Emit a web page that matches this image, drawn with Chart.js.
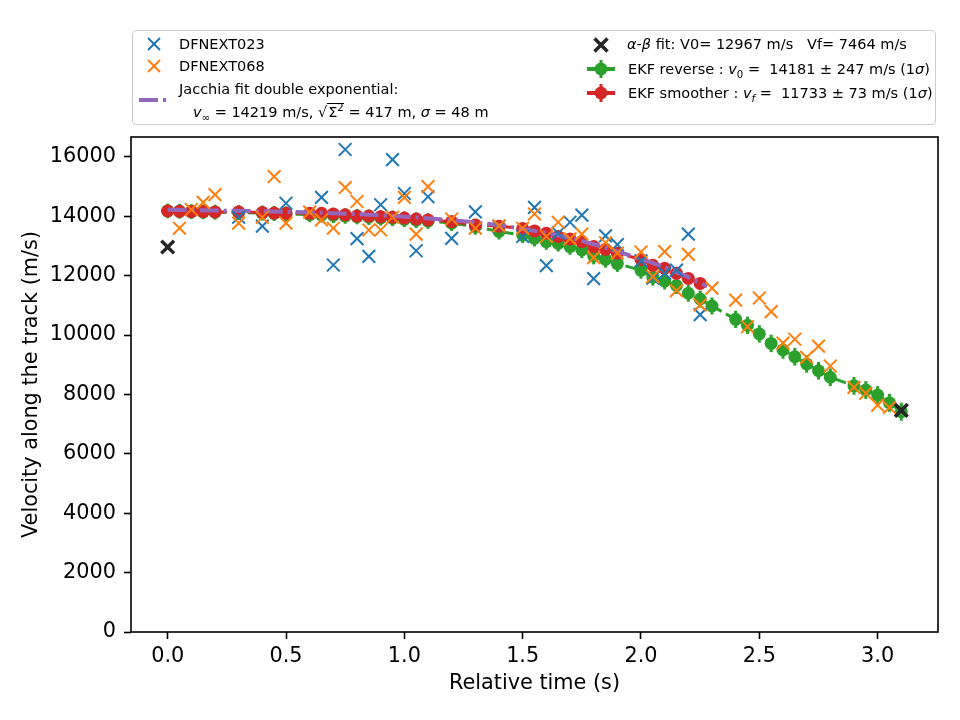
<!DOCTYPE html>
<html>
<head>
<meta charset="utf-8">
<script src="https://cdn.jsdelivr.net/npm/chart.js@4.4.1/dist/chart.umd.min.js"></script>
<style>
  html, body { margin: 0; padding: 0; background: #fff; }
  #wrap { position: relative; width: 960px; height: 720px; font-family: "DejaVu Sans", sans-serif; }
  #chart { position: absolute; left: 0; top: 0; }
  #legend { position: absolute; left: 132px; top: 30px; width: 804px; height: 95px;
            border: 1px solid #cccccc; border-radius: 4px; background: rgba(255,255,255,0.8); box-sizing: border-box; }
  #legend svg { position: absolute; left: 0; top: 0; }
  .lt { position: absolute; font-size: 14.5px; line-height: 18px; white-space: nowrap; color: #000; }
  .lt i { font-style: oblique; }
  .sb { font-size: 70%; position: relative; top: 4px; }
  .sp { font-size: 70%; position: relative; top: -6px; }
  .ov { border-top: 1px solid #000; padding-left: 1px; }
</style>
</head>
<body>
<div id="wrap">
  <canvas id="chart" width="960" height="720"></canvas>
  <div id="legend">
    <svg width="804" height="95" id="legendIcons"></svg>
    <div class="lt" style="left:46px; top:4px;">DFNEXT023</div>
    <div class="lt" style="left:46px; top:26px;">DFNEXT068</div>
    <div class="lt" style="left:46px; top:49px;">Jacchia fit double exponential:</div>
    <div class="lt" style="left:60px; top:72px;"><i>v</i><span class="sb">∞</span> = 14219 m/s, √<span class="ov">Σ<span class="sp">2</span></span> = 417 m, <i>σ</i> = 48 m</div>
    <div class="lt" style="left:494px; top:4px;"><i>α</i>-<i>β</i> fit: V0= 12967 m/s&nbsp;&nbsp; Vf= 7464 m/s</div>
    <div class="lt" style="left:495px; top:29px;">EKF reverse : <i>v</i><span class="sb">0</span> =&nbsp; 14181 ± 247 m/s (1<i>σ</i>)</div>
    <div class="lt" style="left:495px; top:53px;">EKF smoother : <i>v</i><span class="sb"><i>f</i></span> =&nbsp; 11733 ± 73 m/s (1<i>σ</i>)</div>
  </div>
</div>
<script>
const blueT = [0.3, 0.4, 0.5, 0.65, 0.7, 0.75, 0.8, 0.85, 0.9, 0.95, 1.0, 1.05, 1.1, 1.2, 1.3, 1.4,
  1.5, 1.55, 1.6, 1.65, 1.7, 1.75, 1.8, 1.85, 1.9, 2.0, 2.05, 2.1, 2.15, 2.2, 2.25];
const blueV = [13970, 13670, 14440, 14640, 12360, 16250, 13250, 12650, 14390, 15910, 14770, 12840, 14660, 13260, 14150, 13660,
  13320, 14300, 12340, 13430, 13800, 14040, 11900, 13340, 13050, 12500, 11920, 12080, 12190, 13400, 10690];

const orangeT = [0.05, 0.1, 0.15, 0.2, 0.3, 0.4, 0.45, 0.5, 0.6, 0.65, 0.7, 0.75, 0.8, 0.85, 0.9, 0.95, 1.0, 1.05, 1.1, 1.2,
  1.3, 1.4, 1.5, 1.55, 1.6, 1.65, 1.7, 1.75, 1.8, 1.85, 1.9, 2.0, 2.05, 2.1, 2.15, 2.2, 2.25, 2.3, 2.4, 2.45,
  2.5, 2.55, 2.6, 2.65, 2.7, 2.75, 2.8, 2.9, 2.95, 3.0, 3.05];
const orangeV = [13600, 14230, 14470, 14730, 13770, 13970, 15340, 13770, 14140, 13880, 13600, 14970, 14500, 13540, 13540, 13970, 14640, 13400, 15000, 13910,
  13600, 13680, 13600, 14080, 13320, 13800, 13240, 13400, 12610, 13110, 12760, 12800, 11970, 12810, 11500, 12720, 11020, 11580, 11180, 10280,
  11250, 10790, 9730, 9860, 9250, 9630, 8960, 8240, 8040, 7640, 7560];

const abT = [0.0, 3.1];
const abV = [12967, 7464];

const ekfT = [0, 0.05, 0.1, 0.15, 0.2, 0.3, 0.4, 0.45, 0.5, 0.6, 0.65, 0.7, 0.75, 0.8, 0.85, 0.9, 0.95, 1.0, 1.05, 1.1, 1.2,
  1.3, 1.4, 1.5, 1.55, 1.6, 1.65, 1.7, 1.75, 1.8, 1.85, 1.9, 2.0, 2.05, 2.1, 2.15, 2.2, 2.25, 2.3, 2.4, 2.45,
  2.5, 2.55, 2.6, 2.65, 2.7, 2.75, 2.8, 2.9, 2.95, 3.0, 3.05, 3.1];
const reverseV = [14181, 14170, 14160, 14150, 14140, 14130, 14110, 14095, 14080, 14060, 14050, 14030, 14010, 13990, 13970, 13950, 13930, 13900, 13870, 13840, 13770,
  13650, 13490, 13370, 13260, 13150, 13090, 12980, 12870, 12660, 12550, 12410, 12180, 11950, 11820, 11670, 11410, 11215, 10980, 10530, 10330,
  10040, 9720, 9500, 9270, 9030, 8800, 8580, 8290, 8150, 7980, 7720, 7420];
const reverseErr = [247, 248, 249, 250, 250, 252, 253, 254, 255, 256, 257, 258, 259, 260, 260, 261, 262, 263, 264, 265, 266,
  268, 270, 272, 273, 274, 275, 276, 277, 278, 279, 280, 282, 283, 284, 285, 286, 287, 288, 290, 291,
  292, 293, 294, 295, 296, 297, 298, 300, 301, 302, 303, 304];

const smootherT = [0, 0.05, 0.1, 0.15, 0.2, 0.3, 0.4, 0.45, 0.5, 0.6, 0.65, 0.7, 0.75, 0.8, 0.85, 0.9, 0.95, 1.0, 1.05, 1.1, 1.2,
  1.3, 1.4, 1.5, 1.55, 1.6, 1.65, 1.7, 1.75, 1.8, 1.85, 1.9, 2.0, 2.05, 2.1, 2.15, 2.2, 2.25];
const smootherV = [14180, 14170, 14160, 14160, 14150, 14150, 14130, 14110, 14100, 14100, 14100, 14080, 14050, 14010, 14010, 13990, 13970, 13940, 13910, 13880, 13820,
  13710, 13670, 13590, 13510, 13430, 13320, 13240, 13150, 12980, 12890, 12760, 12550, 12350, 12250, 12080, 11910, 11740];

const jacchiaT = [0, 0.25, 0.5, 0.75, 1.0, 1.2, 1.4, 1.6, 1.7, 1.8, 1.9, 2.0, 2.1, 2.2, 2.28];
const jacchiaV = [14219, 14190, 14150, 14090, 13990, 13870, 13700, 13440, 13270, 13060, 12820, 12560, 12280, 11950, 11640];

const xTicks = [0.0, 0.5, 1.0, 1.5, 2.0, 2.5, 3.0];
const yTicks = [0, 2000, 4000, 6000, 8000, 10000, 12000, 14000, 16000];

const C = {
  blue: '#1f77b4', orange: '#ff7f0e', green: '#2ca02c', red: '#d62728', purple: '#9467bd', black: '#262626'
};
const FONT = '"DejaVu Sans", sans-serif';

function pts(t, v) { return t.map((x, i) => ({ x: x, y: v[i] })); }

// vertical error bars drawn under the EKF reverse markers
const errorBars = {
  id: 'errorBars',
  beforeDatasetDraw(chart, args) {
    const ds = chart.data.datasets[args.index];
    if (!ds.errors) return;
    const y = chart.scales.y, ctx = chart.ctx;
    ctx.save();
    ctx.strokeStyle = ds.borderColor;
    ctx.lineWidth = 3;
    args.meta.data.forEach((p, i) => {
      const v = ds.data[i].y, e = ds.errors[i];
      ctx.beginPath();
      ctx.moveTo(p.x, y.getPixelForValue(v - e));
      ctx.lineTo(p.x, y.getPixelForValue(v + e));
      ctx.stroke();
    });
    ctx.restore();
  }
};

// full box around the axes, like matplotlib spines
const frame = {
  id: 'frame',
  afterDatasetsDraw(chart) {
    const a = chart.chartArea, ctx = chart.ctx;
    ctx.save();
    ctx.strokeStyle = '#000';
    ctx.lineWidth = 1.6;
    ctx.strokeRect(a.left, a.top, a.right - a.left, a.bottom - a.top);
    ctx.restore();
  }
};

new Chart(document.getElementById('chart'), {
  type: 'scatter',
  data: {
    datasets: [
      {
        label: 'alpha-beta', data: pts(abT, abV), order: 0,
        pointStyle: 'crossRot', pointRadius: 9, borderColor: C.black, borderWidth: 3.5
      },
      {
        label: 'DFNEXT068', data: pts(orangeT, orangeV), order: 1,
        pointStyle: 'crossRot', pointRadius: 9, borderColor: C.orange, borderWidth: 2
      },
      {
        label: 'DFNEXT023', data: pts(blueT, blueV), order: 2,
        pointStyle: 'crossRot', pointRadius: 9, borderColor: C.blue, borderWidth: 2
      },
      {
        label: 'Jacchia', data: pts(jacchiaT, jacchiaV), order: 3,
        showLine: true, pointRadius: 0, borderColor: C.purple, borderWidth: 4,
        borderDash: [19, 5, 3, 5], cubicInterpolationMode: 'monotone'
      },
      {
        label: 'EKF smoother', data: pts(smootherT, smootherV), order: 4,
        showLine: true, borderColor: C.red, borderWidth: 3, borderDash: [11, 5],
        pointRadius: 6.5, pointBackgroundColor: C.red, pointBorderWidth: 0
      },
      {
        label: 'EKF reverse', data: pts(ekfT, reverseV), errors: reverseErr, order: 5,
        showLine: true, borderColor: C.green, borderWidth: 3, borderDash: [11, 5],
        pointRadius: 6.5, pointBackgroundColor: C.green, pointBorderWidth: 0
      }
    ]
  },
  options: {
    responsive: false,
    animation: false,
    layout: { padding: { left: 0, right: 22, top: 137, bottom: 0 } },
    plugins: { legend: { display: false }, tooltip: { enabled: false } },
    scales: {
      x: {
        type: 'linear', min: -0.155, max: 3.255,
        afterFit(s) { s.height = 88; },
        afterBuildTicks(s) { s.ticks = xTicks.map(v => ({ value: v })); },
        ticks: { color: '#000', padding: 5, font: { family: FONT, size: 20.8 },
                 callback: v => v.toFixed(1), maxRotation: 0, autoSkip: false },
        grid: { drawOnChartArea: false, tickLength: 7, tickColor: '#000', tickWidth: 1.6 },
        border: { display: false },
        title: { display: true, text: 'Relative time (s)', color: '#000',
                 font: { family: FONT, size: 20.8, lineHeight: 1.2 }, padding: { top: 0, bottom: 24 } }
      },
      y: {
        type: 'linear', min: 0, max: 16672,
        afterFit(s) { s.width = 131; },
        afterBuildTicks(s) { s.ticks = yTicks.map(v => ({ value: v })); },
        ticks: { color: '#000', padding: 8, font: { family: FONT, size: 20.8 },
                 callback: v => String(v), autoSkip: false },
        grid: { drawOnChartArea: false, tickLength: 7, tickColor: '#000', tickWidth: 1.6 },
        border: { display: false },
        title: { display: true, text: 'Velocity along the track (m/s)', color: '#000',
                 font: { family: FONT, size: 20.8, lineHeight: 1.2 }, padding: { top: 19, bottom: 0 } }
      }
    }
  },
  plugins: [errorBars, frame]
});

// legend handles (coordinates relative to the legend box)
const svg = document.getElementById('legendIcons');
function add(tag, attrs) {
  const el = document.createElementNS('http://www.w3.org/2000/svg', tag);
  for (const k in attrs) el.setAttribute(k, attrs[k]);
  svg.appendChild(el);
}
function cross(cx, cy, r, color, w) {
  add('line', { x1: cx - r, y1: cy - r, x2: cx + r, y2: cy + r, stroke: color, 'stroke-width': w });
  add('line', { x1: cx - r, y1: cy + r, x2: cx + r, y2: cy - r, stroke: color, 'stroke-width': w });
}
function ebar(cx, cy, color) {
  add('line', { x1: cx - 14, y1: cy, x2: cx + 14, y2: cy, stroke: color, 'stroke-width': 4 });
  add('line', { x1: cx, y1: cy - 9, x2: cx, y2: cy + 9, stroke: color, 'stroke-width': 3 });
  add('circle', { cx: cx, cy: cy, r: 6.5, fill: color });
}
cross(21, 13, 6, C.blue, 2);
cross(21, 35, 6, C.orange, 2);
add('line', { x1: 6, y1: 69, x2: 35, y2: 69, stroke: C.purple, 'stroke-width': 4, 'stroke-dasharray': '19 5 3 5' });
cross(468, 14, 6.5, C.black, 3.5);
ebar(468, 38, C.green);
ebar(468, 62, C.red);
</script>
</body>
</html>
